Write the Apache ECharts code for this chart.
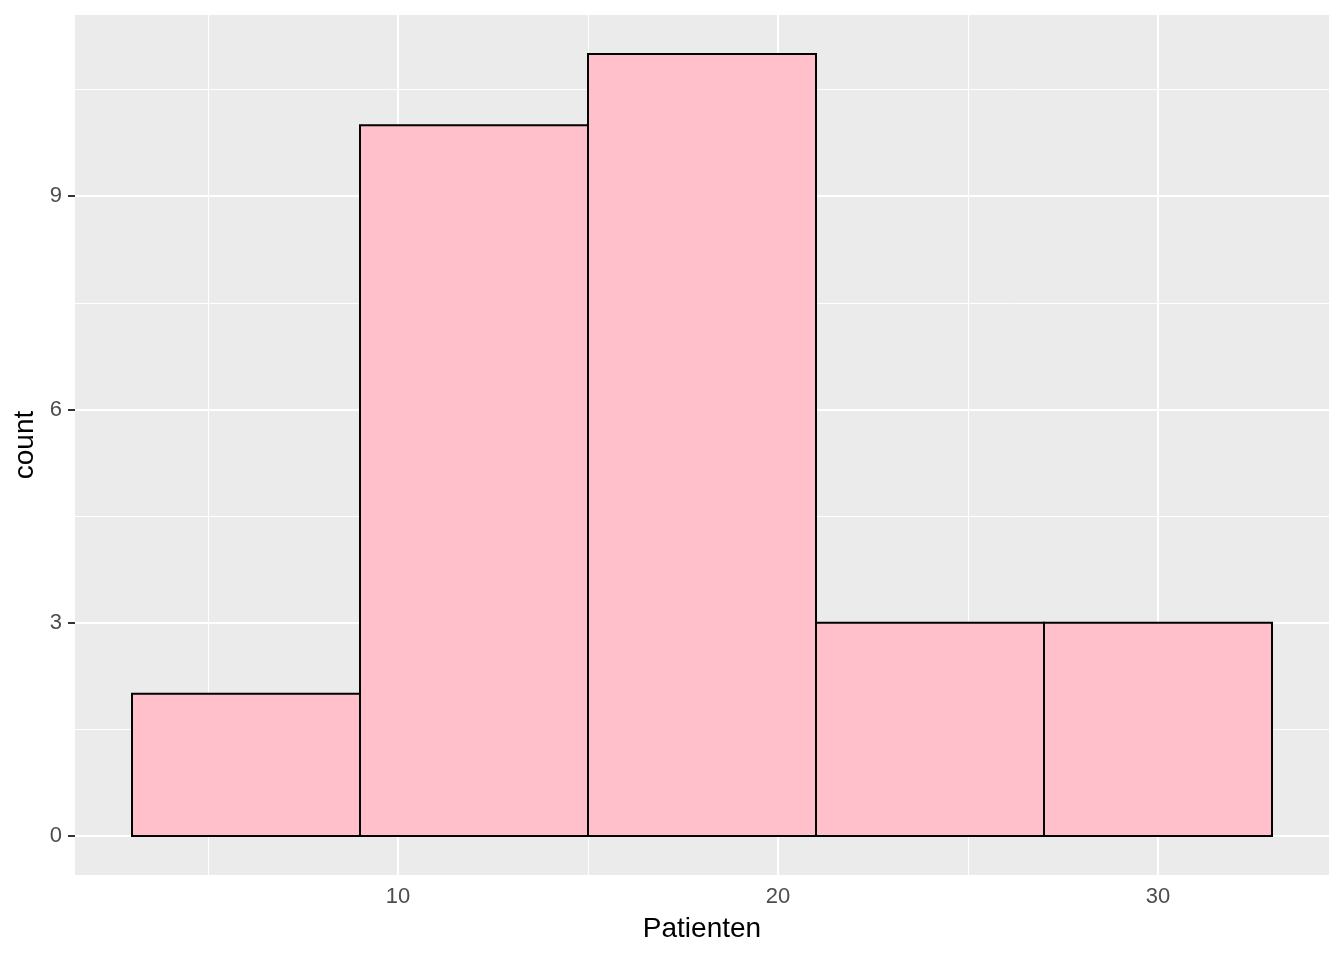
<!DOCTYPE html>
<html><head><meta charset="utf-8">
<script src="https://cdn.jsdelivr.net/npm/echarts@6/dist/echarts.min.js"></script>
<style>html,body{margin:0;padding:0;background:#fff}#c{width:1344px;height:960px}</style>
</head><body><div id="c"></div>
<script>
// histogram bins (Patienten), binwidth 6
const binStart = [3, 9, 15, 21, 27];
const binEnd = [9, 15, 21, 27, 33];
const counts = [2, 10, 11, 3, 3];
// axis ticks
const xMajor = [10, 20, 30];
const xMinor = [5, 15, 25];
const yMajor = [0, 3, 6, 9];
const yMinor = [1.5, 4.5, 7.5, 10.5];
const xRange = [1.5, 34.5];
const yRange = [-0.55, 11.55];

const font = '"Liberation Sans", Arial, Helvetica, sans-serif';
const binData = binStart.map((s, i) => [s, binEnd[i], counts[i]]);

const gridLines = [];
xMinor.forEach(v => gridLines.push({xAxis: v, lineStyle: {width: 1, color: '#fff', type: 'solid'}}));
yMinor.forEach(v => gridLines.push({yAxis: v, lineStyle: {width: 1, color: '#fff', type: 'solid'}}));
xMajor.forEach(v => gridLines.push({xAxis: v, lineStyle: {width: 2, color: '#fff', type: 'solid'}}));
yMajor.forEach(v => gridLines.push({yAxis: v, lineStyle: {width: 2, color: '#fff', type: 'solid'}}));

const chart = echarts.init(document.getElementById('c'), null, {renderer: 'canvas'});
chart.setOption({
  animation: false,
  backgroundColor: '#fff',
  grid: {left: 75, right: 15, top: 15, bottom: 85, show: true, backgroundColor: '#EBEBEB', borderWidth: 0},
  xAxis: {
    type: 'value', min: xRange[0], max: xRange[1],
    name: 'Patienten', nameLocation: 'middle', nameGap: 40,
    nameTextStyle: {fontFamily: font, fontSize: 28, color: '#000'},
    axisLine: {show: false},
    axisTick: {show: true, length: 7, customValues: xMajor, lineStyle: {color: '#333', width: 2}},
    axisLabel: {customValues: xMajor, fontFamily: font, fontSize: 22, color: '#4D4D4D', margin: 11},
    splitLine: {show: false}
  },
  yAxis: {
    type: 'value', min: yRange[0], max: yRange[1],
    name: 'count', nameLocation: 'middle', nameGap: 35, nameRotate: 90,
    nameTextStyle: {fontFamily: font, fontSize: 28, color: '#000'},
    axisLine: {show: false},
    axisTick: {show: true, length: 7, customValues: yMajor, lineStyle: {color: '#333', width: 2}},
    axisLabel: {customValues: yMajor, fontFamily: font, fontSize: 22, color: '#4D4D4D', margin: 13},
    splitLine: {show: false}
  },
  series: [
    {
      type: 'line', data: [], z: 1, silent: true,
      markLine: {silent: true, symbol: 'none', label: {show: false}, data: gridLines, animation: false}
    },
    {
      type: 'custom', z: 5,
      data: binData,
      renderItem: function (params, api) {
        const p0 = api.coord([api.value(0), api.value(2)]);
        const p1 = api.coord([api.value(1), 0]);
        return {
          type: 'rect',
          shape: {x: p0[0], y: p0[1], width: p1[0] - p0[0], height: p1[1] - p0[1]},
          style: {fill: '#FFC0CB', stroke: '#000', lineWidth: 2}
        };
      }
    }
  ]
});
</script></body></html>
